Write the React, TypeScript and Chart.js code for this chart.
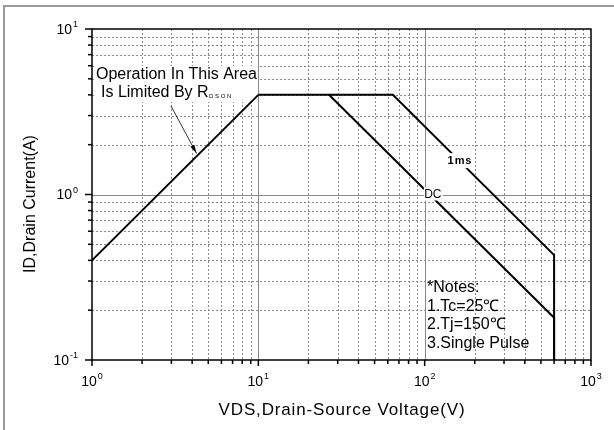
import React, { useEffect, useRef } from "react";
import { Chart, registerables } from "chart.js";

Chart.register(...registerables);

// Safe operating area data (VDS in V, ID in A)
const rdsonX = [1, 10];
const rdsonY = [0.4, 4];
const dcX = [10, 26.6, 600, 600];
const dcY = [4, 4, 0.18, 0.1];
const ms1X = [26.6, 64.4, 600, 600];
const ms1Y = [4, 4, 0.43, 0.1];

const xDecades = [1, 10, 100, 1000];
const xExponents = ["0", "1", "2", "3"];
const yDecades = [0.1, 1, 10];
const yExponents = ["-1", "0", "1"];
const minorSteps = [2, 3, 4, 5, 6, 7, 8, 9];

const xTitle = "VDS,Drain-Source Voltage(V)";
const yTitle = "ID,Drain Current(A)";
const annotLine1 = "Operation In This Area";
const annotLine2 = "Is Limited By R";
const annotSub = "DSON";
const notes = ["*Notes:", "1.Tc=25\u2103", "2.Tj=150\u2103", "3.Single Pulse"];
const label1ms = "1ms";
const labelDC = "DC";

const FONT = "Arial, 'Liberation Sans', sans-serif";

const toPts = (xs: number[], ys: number[]) => xs.map((x, i) => ({ x, y: ys[i] }));

const decorPlugin = {
  id: "decor",
  beforeDatasetsDraw(chart: any) {
    const ctx = chart.ctx;
    const xs = chart.scales.x;
    const ys = chart.scales.y;
    const { left, right, top, bottom } = chart.chartArea;
    ctx.save();
    // outer frame
    ctx.strokeStyle = "#9a9a9a";
    ctx.lineWidth = 2;
    ctx.strokeRect(4, 6, 640, 460);

    // minor grid
    ctx.strokeStyle = "#8a8a8a";
    ctx.lineWidth = 1;
    ctx.setLineDash([2, 2]);
    for (let d = 0; d < xDecades.length - 1; d++) {
      for (const k of minorSteps) {
        const px = Math.round(xs.getPixelForValue(xDecades[d] * k)) + 0.5;
        ctx.beginPath();
        ctx.moveTo(px, top);
        ctx.lineTo(px, bottom);
        ctx.stroke();
      }
    }
    for (let d = 0; d < yDecades.length - 1; d++) {
      for (const k of minorSteps) {
        const py = Math.round(ys.getPixelForValue(yDecades[d] * k)) + 0.5;
        ctx.beginPath();
        ctx.moveTo(left, py);
        ctx.lineTo(right, py);
        ctx.stroke();
      }
    }
    // major grid
    ctx.setLineDash([]);
    ctx.strokeStyle = "#8a8a8a";
    for (let d = 1; d < xDecades.length - 1; d++) {
      const px = Math.round(xs.getPixelForValue(xDecades[d])) + 0.5;
      ctx.beginPath();
      ctx.moveTo(px, top);
      ctx.lineTo(px, bottom);
      ctx.stroke();
    }
    for (let d = 1; d < yDecades.length - 1; d++) {
      const py = Math.round(ys.getPixelForValue(yDecades[d])) + 0.5;
      ctx.beginPath();
      ctx.moveTo(left, py);
      ctx.lineTo(right, py);
      ctx.stroke();
    }

    // ticks
    ctx.strokeStyle = "#000";
    ctx.lineWidth = 1.5;
    for (let d = 0; d < xDecades.length; d++) {
      const px = xs.getPixelForValue(xDecades[d]);
      ctx.beginPath();
      ctx.moveTo(px, bottom);
      ctx.lineTo(px, bottom + 6);
      ctx.stroke();
      if (d < xDecades.length - 1) {
        for (const k of minorSteps) {
          const mx = xs.getPixelForValue(xDecades[d] * k);
          ctx.beginPath();
          ctx.moveTo(mx, bottom);
          ctx.lineTo(mx, bottom + 4);
          ctx.stroke();
        }
      }
    }
    for (let d = 0; d < yDecades.length; d++) {
      const py = ys.getPixelForValue(yDecades[d]);
      ctx.beginPath();
      ctx.moveTo(left, py);
      ctx.lineTo(left - 7, py);
      ctx.stroke();
      if (d < yDecades.length - 1) {
        for (const k of minorSteps) {
          const my = ys.getPixelForValue(yDecades[d] * k);
          ctx.beginPath();
          ctx.moveTo(left, my);
          ctx.lineTo(left - 4, my);
          ctx.stroke();
        }
      }
    }

    // axes border
    ctx.lineWidth = 1.5;
    ctx.strokeStyle = "#000";
    ctx.strokeRect(left, top, right - left, bottom - top);

    // tick labels with superscript exponents
    ctx.fillStyle = "#000";
    ctx.textBaseline = "middle";
    const baseFont = "14px " + FONT;
    const expFont = "9px " + FONT;
    for (let d = 0; d < xDecades.length; d++) {
      const px = xs.getPixelForValue(xDecades[d]);
      ctx.font = baseFont;
      const w1 = ctx.measureText("10").width;
      ctx.font = expFont;
      const w2 = ctx.measureText(xExponents[d]).width;
      const x0 = px - (w1 + w2 + 1) / 2;
      ctx.font = baseFont;
      ctx.textAlign = "left";
      ctx.fillText("10", x0, bottom + 22);
      ctx.font = expFont;
      ctx.fillText(xExponents[d], x0 + w1 + 1, bottom + 17);
    }
    for (let d = 0; d < yDecades.length; d++) {
      const py = ys.getPixelForValue(yDecades[d]);
      ctx.font = expFont;
      const w2 = ctx.measureText(yExponents[d]).width;
      const xr = left - 14;
      ctx.textAlign = "right";
      ctx.fillText(yExponents[d], xr, py - 4);
      ctx.font = baseFont;
      ctx.fillText("10", xr - w2 - 1, py + 1);
    }

    // axis titles
    ctx.textAlign = "center";
    ctx.font = "17px " + FONT;
    const hasLS = "letterSpacing" in ctx;
    if (hasLS) ctx.letterSpacing = "0.85px";
    ctx.fillText(xTitle, (left + right) / 2 + 0.5, bottom + 50);
    if (hasLS) ctx.letterSpacing = "0px";
    ctx.font = "16px " + FONT;
    ctx.save();
    ctx.translate(31, 204);
    ctx.rotate(-Math.PI / 2);
    ctx.fillText(yTitle, 0, 0);
    ctx.restore();

    // annotation (white background)
    ctx.font = "16px " + FONT;
    ctx.textAlign = "left";
    const a1w = ctx.measureText(annotLine1).width;
    ctx.fillStyle = "#fff";
    ctx.fillRect(95, 66, a1w + 2, 36);
    ctx.fillStyle = "#000";
    ctx.fillText(annotLine1, 96, 75);
    ctx.fillText(annotLine2, 101, 93);
    const a2w = ctx.measureText(annotLine2).width;
    ctx.font = "6px " + FONT;
    ctx.fillText(annotSub.split("").join(" "), 101 + a2w + 0.5, 96);

    // arrow
    const ax0 = 171, ay0 = 106;
    const ax1 = xs.getPixelForValue(4.25), ay1 = ys.getPixelForValue(4.25 * 0.4) - 3;
    ctx.strokeStyle = "#000";
    ctx.lineWidth = 0.8;
    ctx.beginPath();
    ctx.moveTo(ax0, ay0);
    ctx.lineTo(ax1, ay1);
    ctx.stroke();
    const ang = Math.atan2(ay1 - ay0, ax1 - ax0);
    ctx.beginPath();
    ctx.moveTo(ax1, ay1);
    ctx.lineTo(ax1 - 9 * Math.cos(ang - 0.25), ay1 - 9 * Math.sin(ang - 0.25));
    ctx.lineTo(ax1 - 9 * Math.cos(ang + 0.25), ay1 - 9 * Math.sin(ang + 0.25));
    ctx.closePath();
    ctx.fill();

    // notes
    ctx.font = "16px " + FONT;
    ctx.textAlign = "left";
    notes.forEach((t, i) => {
      ctx.fillText(t, 427, 288 + i * 18.4);
    });
    ctx.restore();
  },
  afterDatasetsDraw(chart: any) {
    const ctx = chart.ctx;
    const xs = chart.scales.x;
    const ys = chart.scales.y;
    ctx.save();
    ctx.textBaseline = "middle";
    ctx.textAlign = "center";
    // 1ms label on its line
    ctx.font = "bold 11px " + FONT;
    const mx = xs.getPixelForValue(162);
    const my = ys.getPixelForValue(4 * 64.4 / 162);
    ctx.fillStyle = "#fff";
    ctx.fillRect(mx - 13, my - 8, 26, 15);
    ctx.fillStyle = "#000";
    ctx.fillText(label1ms.split("").join(String.fromCharCode(8202)), mx, my);
    // DC label
    ctx.font = "12px " + FONT;
    const dx = xs.getPixelForValue(112);
    const dy = ys.getPixelForValue(1);
    ctx.fillStyle = "#fff";
    ctx.fillRect(dx - 9, dy - 7, 19, 13);
    ctx.fillStyle = "#000";
    ctx.fillText(labelDC, dx, dy);
    ctx.restore();
  },
};

export default function App() {
  const ref = useRef<HTMLCanvasElement | null>(null);
  useEffect(() => {
    document.body.style.margin = "0";
    const canvas = ref.current!;
    const chart = new Chart(canvas, {
      type: "scatter",
      data: {
        datasets: [
          { label: "RDSON", data: toPts(rdsonX, rdsonY) },
          { label: "DC", data: toPts(dcX, dcY) },
          { label: "1ms", data: toPts(ms1X, ms1Y) },
        ].map((d) => ({
          ...d,
          showLine: true,
          borderColor: "#000",
          borderWidth: 2,
          pointRadius: 0,
          fill: false,
        })),
      },
      plugins: [decorPlugin],
      options: {
        responsive: false,
        animation: false,
        devicePixelRatio: 1,
        layout: { padding: { left: 92, top: 29, right: 23, bottom: 70 } },
        plugins: { legend: { display: false }, tooltip: { enabled: false } },
        scales: {
          x: { type: "logarithmic", min: 1, max: 1000, display: false },
          y: { type: "logarithmic", min: 0.1, max: 10, display: false },
        },
      },
    });
    return () => chart.destroy();
  }, []);
  return (
    <div style={{ width: 614, height: 430, background: "#fff" }}>
      <canvas ref={ref} width={614} height={430} style={{ display: "block" }} />
    </div>
  );
}
